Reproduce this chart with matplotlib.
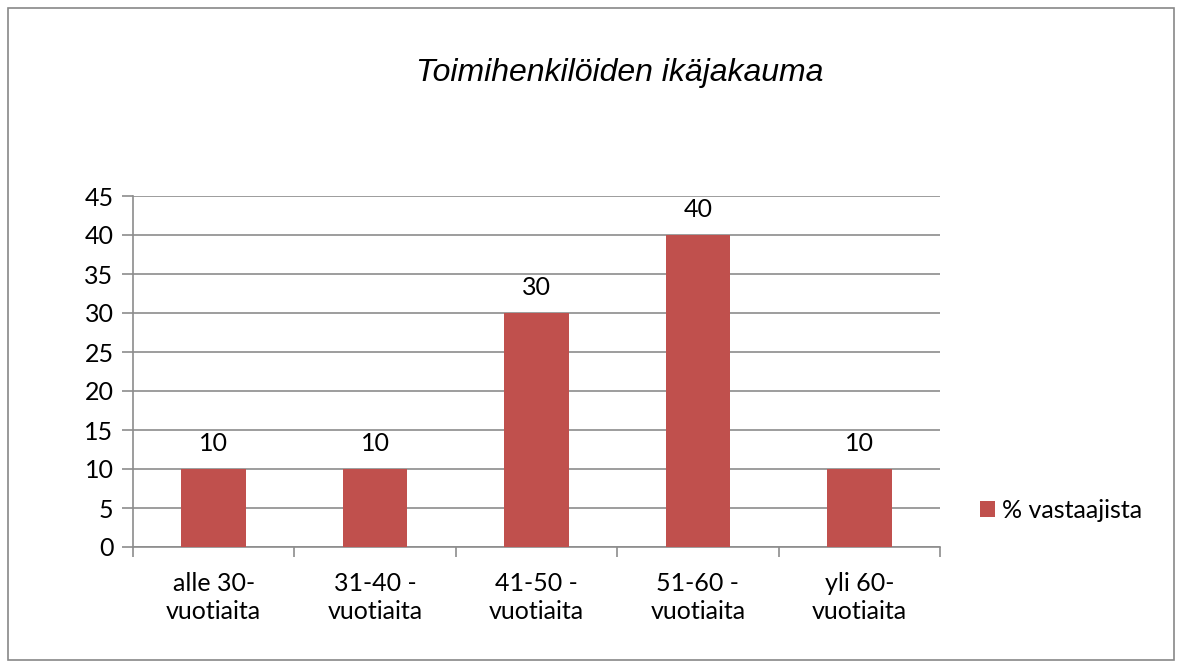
import matplotlib
matplotlib.use("Agg")
import matplotlib.pyplot as plt
from matplotlib.patches import Rectangle

categories = ["alle 30-\nvuotiaita", "31-40 -\nvuotiaita", "41-50 -\nvuotiaita", "51-60 -\nvuotiaita", "yli 60-\nvuotiaita"]
values = [10, 10, 30, 40, 10]
series_name = "% vastaajista"
title = "Toimihenkilöiden ikäjakauma"
yticks = [0, 5, 10, 15, 20, 25, 30, 35, 40, 45]

W, H = 1182, 668
fig = plt.figure(figsize=(W / 100, H / 100), dpi=100)
fig.patch.set_facecolor("white")
fig.patches.append(Rectangle((8 / W, 8 / H), 1 - 16 / W, 1 - 16 / H, transform=fig.transFigure,
                             fill=False, edgecolor="#888888", linewidth=1.2))

ax = fig.add_axes([133 / W, 1 - 547 / H, (940 - 133) / W, (547 - 196) / H])
font = "Lato"
fs = 18
x = list(range(len(categories)))
bars = ax.bar(x, values, width=0.4, color="#C0504D", label=series_name, zorder=3)
for xi, v in zip(x, values):
    ax.text(xi, v + 1.8, str(v), ha="center", va="bottom", fontsize=fs, family=font)

ax.set_xlim(-0.5, len(categories) - 0.5)
ax.set_ylim(0, 45)
ax.set_yticks(yticks)
ax.set_yticklabels([str(t) for t in yticks], fontsize=fs, family=font)
ax.yaxis.grid(True, color="#8c8c8c", linewidth=1.2, zorder=0)
ax.tick_params(axis="y", length=8, width=1.2, color="#8c8c8c", pad=6)
ax.set_xticks([i - 0.5 for i in range(len(categories) + 1)])
ax.set_xticklabels([])
ax.set_xticks(x, minor=True)
ax.set_xticklabels(categories, minor=True, fontsize=fs, family=font, linespacing=1.25)
ax.tick_params(axis="x", which="major", length=7, width=1.2, color="#8c8c8c", direction="out")
ax.tick_params(axis="x", which="minor", length=0, pad=18)
for s in ["top", "right"]:
    ax.spines[s].set_visible(False)
for s in ["left", "bottom"]:
    ax.spines[s].set_color("#8c8c8c")
    ax.spines[s].set_linewidth(1.2)

fig.text(620 / W, 1 - 73 / H, title, ha="center", va="center", fontsize=23,
         style="italic", family="Liberation Sans")

leg = fig.legend(handles=[bars], labels=[series_name], loc="center left",
                 bbox_to_anchor=(957 / W, 1 - 510 / H), frameon=False,
                 prop={"family": font, "size": fs}, handlelength=0.6, handleheight=0.6,
                 handletextpad=0.3)

fig.savefig("out.png", dpi=100, facecolor="white")
